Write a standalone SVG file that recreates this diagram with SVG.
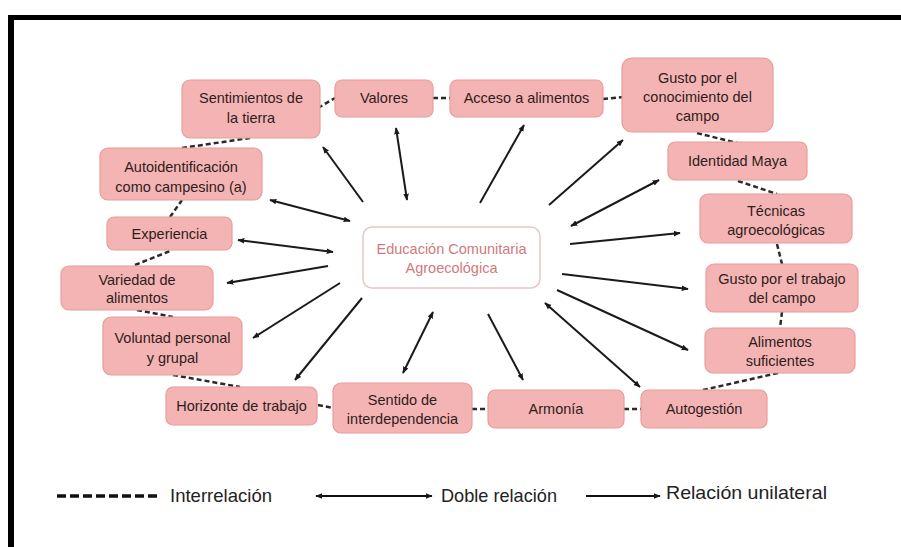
<svg xmlns="http://www.w3.org/2000/svg" width="901" height="547" viewBox="0 0 901 547">
<defs>
<style>
.n rect{fill:#f4b4b3;stroke:#e89c9c;stroke-width:1.2}
.n text,.c text{font-family:"Liberation Sans",Arial,sans-serif;font-size:14.5px;fill:#2f1d1d;text-anchor:middle}
.c rect{fill:#ffffff;stroke:#e6c8c8;stroke-width:1.5}
.c text{fill:#d07a80}
.a line{stroke:#1a1a1a;stroke-width:2}
.d line{stroke:#2a2a2a;stroke-width:2.5;stroke-dasharray:5 3}
.lg text{font-family:"Liberation Sans",Arial,sans-serif;font-size:19px;fill:#222}
</style>
<marker id="h" viewBox="0 0 10 10" refX="9" refY="5" markerWidth="7" markerHeight="7" markerUnits="userSpaceOnUse" orient="auto-start-reverse">
<path d="M0,1 L10,5 L0,9 z" fill="#1a1a1a"/>
</marker>
</defs>
<rect width="901" height="547" fill="#ffffff"/>
<rect x="8" y="15" width="893" height="5" fill="#000"/>
<rect x="8" y="15" width="6" height="532" fill="#000"/>

<g id="connectors">
<g class="d">
<line x1="318" y1="108" x2="335" y2="98"/>
<line x1="433" y1="98" x2="450" y2="98"/>
<line x1="603" y1="99" x2="623" y2="97"/>
<line x1="697" y1="133" x2="737" y2="143"/>
<line x1="738" y1="181" x2="777" y2="194"/>
<line x1="777" y1="244" x2="782" y2="264"/>
<line x1="782" y1="312" x2="780" y2="328"/>
<line x1="778" y1="373" x2="703" y2="390"/>
<line x1="624" y1="409" x2="641" y2="409"/>
<line x1="472" y1="409" x2="488" y2="409"/>
<line x1="318" y1="405" x2="333" y2="408"/>
<line x1="173" y1="375" x2="240" y2="387"/>
<line x1="137" y1="310" x2="173" y2="317"/>
<line x1="135" y1="265" x2="170" y2="251"/>
<line x1="170" y1="217" x2="182" y2="200"/>
<line x1="182" y1="148" x2="250" y2="138"/>
</g>
<g class="a">
<line x1="363" y1="202" x2="323" y2="147" marker-end="url(#h)"/>
<line x1="407" y1="200" x2="396" y2="128" marker-start="url(#h)" marker-end="url(#h)"/>
<line x1="480" y1="203" x2="524" y2="125" marker-end="url(#h)"/>
<line x1="549" y1="205" x2="623" y2="140" marker-end="url(#h)"/>
<line x1="571" y1="226" x2="659" y2="180" marker-start="url(#h)" marker-end="url(#h)"/>
<line x1="570" y1="244" x2="680" y2="233" marker-end="url(#h)"/>
<line x1="562" y1="274" x2="688" y2="289" marker-end="url(#h)"/>
<line x1="557" y1="290" x2="688" y2="350" marker-end="url(#h)"/>
<line x1="545" y1="303" x2="640" y2="387" marker-start="url(#h)" marker-end="url(#h)"/>
<line x1="488" y1="314" x2="523" y2="380" marker-end="url(#h)"/>
<line x1="433" y1="312" x2="403" y2="373" marker-start="url(#h)" marker-end="url(#h)"/>
<line x1="362" y1="298" x2="295" y2="380" marker-end="url(#h)"/>
<line x1="340" y1="283" x2="253" y2="338" marker-end="url(#h)"/>
<line x1="328" y1="266" x2="227" y2="283" marker-end="url(#h)"/>
<line x1="238" y1="240" x2="333" y2="252" marker-start="url(#h)" marker-end="url(#h)"/>
<line x1="270" y1="200" x2="350" y2="221" marker-start="url(#h)" marker-end="url(#h)"/>
</g>
</g>

<g id="center" class="c"><rect x="363" y="227" width="177" height="61" rx="9"/><text x="451.5" y="254">Educación Comunitaria</text><text x="451.5" y="273">Agroecológica</text></g>

<g id="sentimientos" class="n"><rect x="182" y="80" width="138" height="58" rx="8"/><text x="251" y="103">Sentimientos de</text><text x="251" y="123">la tierra</text></g>
<g id="valores" class="n"><rect x="335" y="80" width="98" height="37" rx="7"/><text x="384" y="103">Valores</text></g>
<g id="acceso" class="n"><rect x="450" y="80" width="153" height="37" rx="7"/><text x="526.5" y="103">Acceso a alimentos</text></g>
<g id="gusto-conocimiento" class="n"><rect x="622" y="58" width="151" height="74" rx="10"/><text x="697.5" y="83">Gusto por el</text><text x="697.5" y="102">conocimiento del</text><text x="697.5" y="121">campo</text></g>
<g id="identidad" class="n"><rect x="668" y="142" width="139" height="38" rx="7"/><text x="737.5" y="166">Identidad Maya</text></g>
<g id="tecnicas" class="n"><rect x="700" y="194" width="152" height="49" rx="8"/><text x="776" y="216">Técnicas</text><text x="776" y="235">agroecológicas</text></g>
<g id="gusto-trabajo" class="n"><rect x="706" y="264" width="152" height="48" rx="8"/><text x="782" y="284">Gusto por el trabajo</text><text x="782" y="303">del campo</text></g>
<g id="alimentos-suficientes" class="n"><rect x="705" y="328" width="150" height="45" rx="8"/><text x="780" y="347">Alimentos</text><text x="780" y="366">suficientes</text></g>
<g id="autogestion" class="n"><rect x="641" y="390" width="126" height="38" rx="7"/><text x="704" y="414">Autogestión</text></g>
<g id="armonia" class="n"><rect x="488" y="390" width="136" height="38" rx="7"/><text x="556" y="414">Armonía</text></g>
<g id="sentido" class="n"><rect x="333" y="383" width="139" height="50" rx="8"/><text x="402.5" y="405">Sentido de</text><text x="402.5" y="424">interdependencia</text></g>
<g id="horizonte" class="n"><rect x="166" y="387" width="151" height="38" rx="7"/><text x="241.5" y="411">Horizonte de trabajo</text></g>
<g id="voluntad" class="n"><rect x="103" y="317" width="139" height="58" rx="8"/><text x="172.5" y="343">Voluntad personal</text><text x="172.5" y="363">y grupal</text></g>
<g id="variedad" class="n"><rect x="61" y="266" width="152" height="44" rx="8"/><text x="137" y="285">Variedad de</text><text x="137" y="303">alimentos</text></g>
<g id="experiencia" class="n"><rect x="107" y="217" width="125" height="33" rx="7"/><text x="169.5" y="239">Experiencia</text></g>
<g id="autoidentificacion" class="n"><rect x="100" y="148" width="162" height="52" rx="8"/><text x="181" y="172">Autoidentificación</text><text x="181" y="192">como campesino (a)</text></g>

<g id="legend" class="lg">
<line x1="57" y1="496" x2="160" y2="496" stroke="#111" stroke-width="3.5" stroke-dasharray="9 4"/>
<text x="170" y="502" textLength="102" lengthAdjust="spacingAndGlyphs">Interrelación</text>
<line x1="316" y1="496" x2="432" y2="496" stroke="#111" stroke-width="2" marker-start="url(#h)" marker-end="url(#h)"/>
<text x="441" y="502" textLength="116" lengthAdjust="spacingAndGlyphs">Doble relación</text>
<line x1="586" y1="496" x2="660" y2="496" stroke="#111" stroke-width="2" marker-end="url(#h)"/>
<text x="666" y="499" textLength="161" lengthAdjust="spacingAndGlyphs">Relación unilateral</text>
</g>
</svg>
